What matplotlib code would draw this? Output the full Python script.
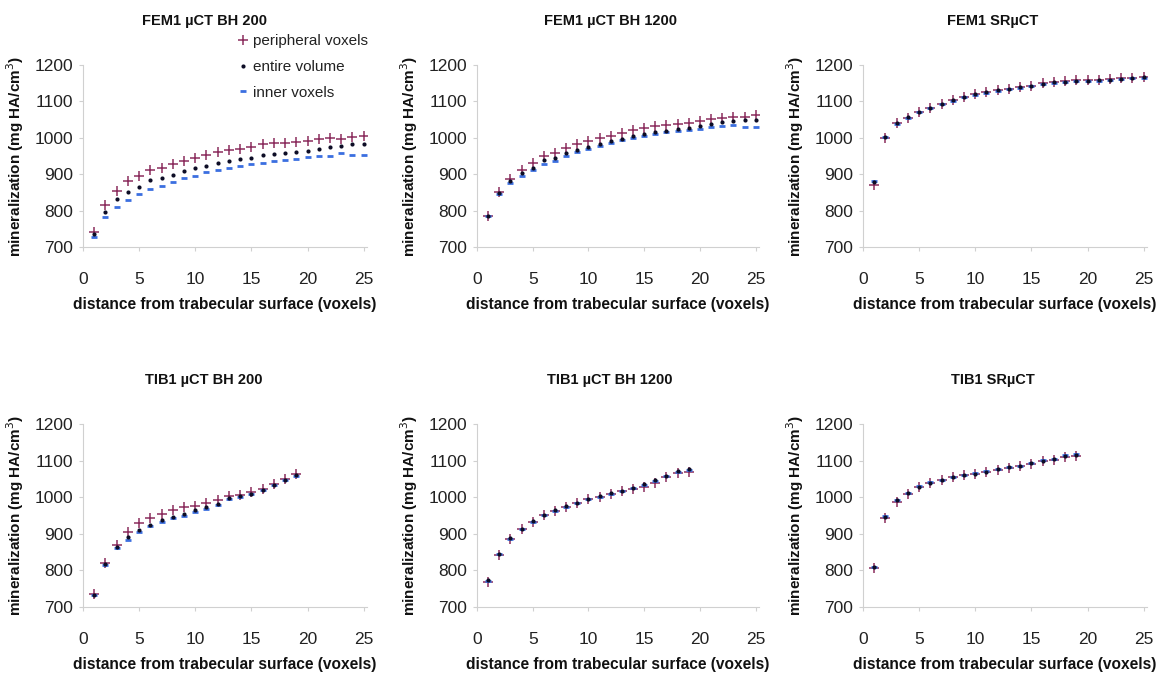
import numpy as np
import matplotlib
matplotlib.use('Agg')
import matplotlib.pyplot as plt

plt.rcParams['font.family'] = ['Liberation Sans', 'DejaVu Sans']

# distance from surface (voxels)
dist_fem = np.arange(1, 26)
dist_tib = np.arange(1, 20)

# FEM1 uCT BH 200
fem1_bh200_periph = [740, 815, 855, 880, 895, 912, 918, 928, 937, 945, 953, 960, 966, 970, 976, 982, 985, 985, 988, 992, 998, 1000, 998, 1003, 1005]
fem1_bh200_entire = [735, 797, 832, 850, 866, 883, 890, 898, 908, 917, 922, 930, 935, 942, 945, 952, 955, 957, 960, 965, 970, 975, 978, 982, 982]
fem1_bh200_inner = [728, 783, 810, 828, 845, 860, 868, 878, 889, 896, 905, 912, 918, 923, 927, 932, 937, 940, 943, 946, 950, 950, 957, 954, 952]

# FEM1 uCT BH 1200
fem1_bh1200_periph = [786, 850, 887, 912, 930, 951, 959, 973, 983, 992, 1000, 1006, 1012, 1021, 1027, 1032, 1035, 1038, 1042, 1047, 1052, 1054, 1056, 1058, 1062]
fem1_bh1200_entire = [785, 847, 880, 902, 918, 938, 945, 957, 966, 976, 983, 990, 998, 1005, 1010, 1016, 1020, 1024, 1028, 1032, 1038, 1043, 1047, 1050, 1050]
fem1_bh1200_inner = [784, 845, 876, 896, 912, 928, 937, 950, 960, 970, 978, 985, 993, 1000, 1005, 1010, 1015, 1018, 1022, 1025, 1030, 1032, 1035, 1030, 1030]

# FEM1 SRuCT
fem1_sr_periph = [870, 1000, 1040, 1055, 1070, 1083, 1093, 1104, 1113, 1120, 1126, 1131, 1135, 1140, 1143, 1150, 1154, 1156, 1158, 1158, 1160, 1161, 1163, 1165, 1167]
fem1_sr_entire = [878, 1002, 1040, 1056, 1071, 1083, 1093, 1103, 1112, 1119, 1125, 1130, 1134, 1139, 1142, 1148, 1152, 1154, 1156, 1157, 1158, 1160, 1162, 1164, 1166]
fem1_sr_inner = [880, 1003, 1039, 1055, 1070, 1082, 1092, 1102, 1111, 1118, 1124, 1129, 1133, 1138, 1141, 1147, 1151, 1153, 1155, 1156, 1157, 1159, 1161, 1163, 1165]

# TIB1 uCT BH 200
tib1_bh200_periph = [735, 820, 870, 906, 929, 943, 954, 964, 972, 977, 985, 993, 1002, 1006, 1013, 1022, 1036, 1050, 1063]
tib1_bh200_entire = [733, 818, 863, 890, 910, 925, 937, 947, 955, 965, 973, 982, 997, 1002, 1010, 1020, 1033, 1047, 1060]
tib1_bh200_inner = [732, 816, 860, 884, 905, 920, 932, 942, 950, 960, 968, 978, 995, 1000, 1009, 1019, 1032, 1046, 1058]

# TIB1 uCT BH 1200
tib1_bh1200_periph = [768, 843, 887, 914, 933, 951, 963, 974, 983, 994, 1001, 1010, 1016, 1022, 1028, 1040, 1055, 1065, 1068]
tib1_bh1200_entire = [773, 845, 888, 914, 934, 952, 964, 975, 984, 995, 1002, 1011, 1018, 1025, 1035, 1047, 1059, 1072, 1076]
tib1_bh1200_inner = [772, 844, 887, 913, 933, 951, 963, 974, 983, 994, 1001, 1010, 1017, 1024, 1033, 1045, 1058, 1070, 1074]

# TIB1 SRuCT
tib1_sr_periph = [806, 944, 988, 1010, 1027, 1039, 1046, 1054, 1060, 1063, 1069, 1075, 1081, 1084, 1091, 1098, 1102, 1111, 1112]
tib1_sr_entire = [809, 947, 991, 1011, 1029, 1040, 1047, 1055, 1061, 1064, 1070, 1076, 1082, 1085, 1093, 1100, 1104, 1113, 1116]
tib1_sr_inner = [810, 948, 991, 1012, 1030, 1041, 1048, 1056, 1062, 1065, 1071, 1077, 1083, 1086, 1094, 1101, 1105, 1114, 1117]

panels = [
    ('FEM1 \u00b5CT BH 200', dist_fem, fem1_bh200_periph, fem1_bh200_entire, fem1_bh200_inner),
    ('FEM1 \u00b5CT BH 1200', dist_fem, fem1_bh1200_periph, fem1_bh1200_entire, fem1_bh1200_inner),
    ('FEM1 SR\u00b5CT', dist_fem, fem1_sr_periph, fem1_sr_entire, fem1_sr_inner),
    ('TIB1 \u00b5CT BH 200', dist_tib, tib1_bh200_periph, tib1_bh200_entire, tib1_bh200_inner),
    ('TIB1 \u00b5CT BH 1200', dist_tib, tib1_bh1200_periph, tib1_bh1200_entire, tib1_bh1200_inner),
    ('TIB1 SR\u00b5CT', dist_tib, tib1_sr_periph, tib1_sr_entire, tib1_sr_inner),
]

W, H = 1164, 673
lefts = [83, 477, 863]
widths = [284, 282, 284]
rows = [(65, 247), (424, 607)]
title_centers = [204, 610, 993]

c_periph = '#8c2d5e'
c_entire = '#0d0d26'
c_inner = '#3b6fe0'
spine_c = '#d0d0d0'

fig = plt.figure(figsize=(W / 100, H / 100), dpi=100)

for i, (title, x, periph, entire, inner) in enumerate(panels):
    r, c = divmod(i, 3)
    top, bot = rows[r]
    ax = fig.add_axes([lefts[c] / W, 1 - bot / H, widths[c] / W, (bot - top) / H])
    hp, = ax.plot(x, periph, ls='none', marker='+', ms=7.5, mew=1.1, color=c_periph, zorder=2)
    hi, = ax.plot(x, inner, ls='none', marker='_', ms=5, mew=2, color=c_inner, zorder=2.5)
    he, = ax.plot(x, entire, ls='none', marker='o', ms=3, mew=0, color=c_entire, zorder=3)

    ax.set_xlim(0, 25.3)
    ax.set_ylim(700, 1200)
    ax.set_xticks(np.arange(0, 26, 5))
    ax.set_yticks(np.arange(700, 1201, 100))
    for s in ['top', 'right']:
        ax.spines[s].set_visible(False)
    for s in ['left', 'bottom']:
        ax.spines[s].set_color(spine_c)
        ax.spines[s].set_linewidth(0.8)
    ax.tick_params(axis='x', length=3, color=spine_c, pad=15, labelsize=12.5, labelcolor='#222222')
    ax.tick_params(axis='y', length=3, color=spine_c, pad=4, labelsize=12.5, labelcolor='#222222')

    tx = (title_centers[c] - lefts[c]) / widths[c]
    ax.set_title(title, x=tx, pad=29, fontsize=10.5, fontweight='bold', color='#111111')
    ax.set_xlabel('distance from trabecular surface (voxels)', fontsize=11.2, fontweight='bold',
                  color='#111111', labelpad=7)
    ax.set_ylabel('mineralization (mg HA/cm$^3$)', fontsize=11, fontweight='bold',
                  color='#111111', labelpad=6)

    if i == 0:
        ax.legend([hp, he, hi], ['peripheral voxels', 'entire volume', 'inner voxels'],
                  loc='upper left', bbox_to_anchor=(238 / W, 1 - 34 / H),
                  bbox_transform=fig.transFigure, frameon=False, fontsize=11,
                  handlelength=0.6, handletextpad=0.4, labelspacing=0.78,
                  borderpad=0, borderaxespad=0, labelcolor='#222222')

plt.savefig('out.png', dpi=100)
